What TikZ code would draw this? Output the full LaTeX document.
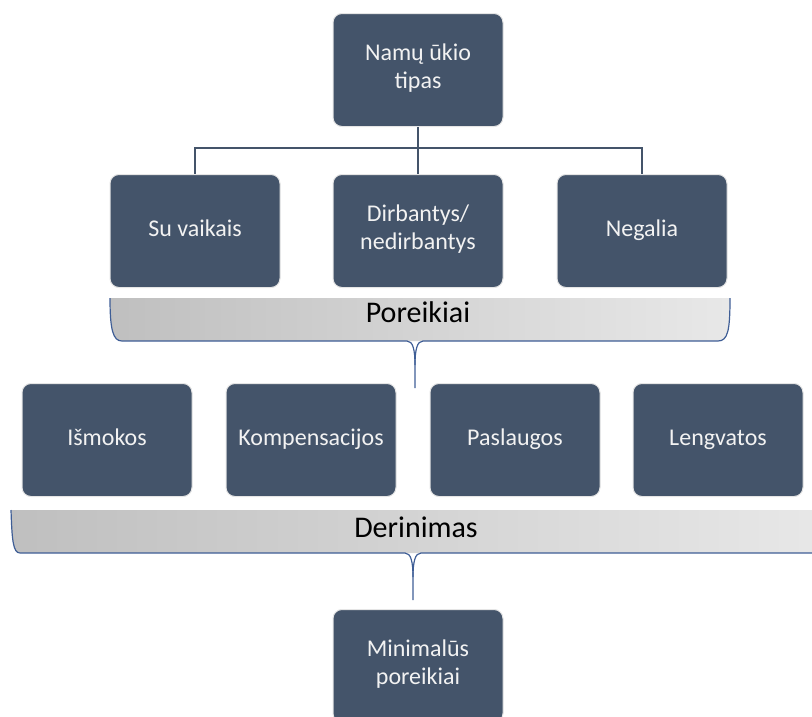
\documentclass[tikz,border=0pt]{standalone}
\usepackage{fontspec}
\setmainfont{Carlito}
\usepackage{tikz}
\definecolor{boxblue}{HTML}{44546A}
\definecolor{bracketblue}{HTML}{3F5E96}
\tikzstyle{box}=[rectangle,rounded corners=9pt,fill=boxblue,draw=black!10,line width=1pt,minimum width=170pt,minimum height=113pt,text=white!95!black,align=center,font=\fontsize{24}{28}\selectfont,execute at begin node=\strut,execute at end node=\strut]
\tikzstyle{line} = [draw, boxblue, line width=2pt]
\tikzstyle{band}=[left color=black!25,right color=black!9]
\tikzstyle{bracket}=[draw=bracketblue,line width=1.2pt]
\tikzstyle{bandtext}=[font=\fontsize{30}{36}\selectfont,anchor=base,inner sep=0pt]

\begin{document}
\begin{tikzpicture}[x=1pt,y=-1pt]
    \useasboundingbox (0,0) rectangle (812,716);
    \clip (0,0) rectangle (812,716);

        % household type and its three kinds
        \node[box] (NT) at (418,70) {Namų ūkio\\tipas};
        \node[box] (SV) at (195,231) {Su vaikais};
        \node[box] (DN) at (418,231) {Dirbantys/\\nedirbantys};
        \node[box] (NG) at (642,231) {Negalia};

    \coordinate (fork) at (418,148);
    \path [line] (NT) -- (fork);
    \path [line] (fork) -| (SV);
    \path [line] (fork) -- (DN);
    \path [line] (fork) -| (NG);

  % first bracket
  \path [band] (110,298) -- (730,298) .. controls (730,330) and (728,341) .. (718,341)
        -- (122,341) .. controls (113,341) and (110,330) .. (110,298) -- cycle;
  \path [bracket] (110,298) .. controls (110,330) and (113,341) .. (122,341) -- (407,341)
        .. controls (413,341) and (415,350) .. (415,365) -- (415,388);
  \path [bracket] (415,365) .. controls (415,350) and (417,341) .. (423,341) -- (718,341)
        .. controls (728,341) and (730,330) .. (730,298);
  \node[bandtext] (POR) at (418,322) {Poreikiai};

        % support measures
        \node[box] (IS) at (107,440) {Išmokos};
        \node[box] (KO) at (311,440) {Kompensacijos};
        \node[box] (PA) at (515,440) {Paslaugos};
        \node[box] (LE) at (718,440) {Lengvatos};

  % second bracket, runs past the right edge
  \path [band] (11,510) -- (830,510) -- (830,553)
        -- (20,553) .. controls (13,553) and (12,540) .. (11,510) -- cycle;
  \path [bracket] (11,510) .. controls (12,540) and (13,553) .. (20,553) -- (405,553)
        .. controls (411,553) and (413,562) .. (413,577) -- (413,600);
  \path [bracket] (413,577) .. controls (413,562) and (415,553) .. (421,553) -- (830,553);
  \node[bandtext] (DER) at (416,537) {Derinimas};

        \node[box] (MP) at (418,666) {Minimalūs\\poreikiai};

    \end{tikzpicture}
\end{document}
